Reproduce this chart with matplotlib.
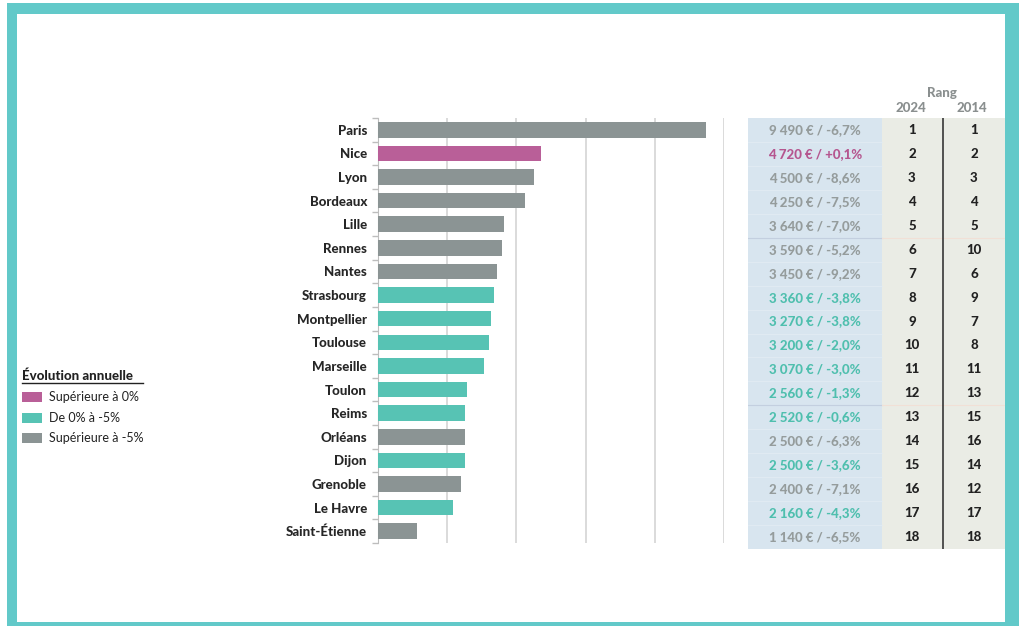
import matplotlib.pyplot as plt
from matplotlib.patches import Rectangle

plt.rcParams["font.family"] = ["Lato", "DejaVu Sans"]

# data, top to bottom
cities = ["Paris", "Nice", "Lyon", "Bordeaux", "Lille", "Rennes", "Nantes",
          "Strasbourg", "Montpellier", "Toulouse", "Marseille", "Toulon",
          "Reims", "Orléans", "Dijon", "Grenoble", "Le Havre", "Saint-Étienne"]
prices = [9490, 4720, 4500, 4250, 3640, 3590, 3450, 3360, 3270, 3200, 3070,
          2560, 2520, 2500, 2500, 2400, 2160, 1140]
evolution = [-6.7, 0.1, -8.6, -7.5, -7.0, -5.2, -9.2, -3.8, -3.8, -2.0, -3.0,
             -1.3, -0.6, -6.3, -3.6, -7.1, -4.3, -6.5]
rank_2024 = list(range(1, 19))
rank_2014 = [1, 2, 3, 4, 5, 10, 6, 9, 7, 8, 11, 13, 15, 16, 14, 12, 17, 18]

legend_labels = ["Supérieure à 0%", "De 0% à -5%", "Supérieure à -5%"]
bar_colors = ["#b95f98", "#57c3b4", "#8b9494"]
text_colors = ["#b5568f", "#4fbfae", "#959c9c"]

BOLD = 900


def category(ev):
    if ev > 0:
        return 0
    if ev >= -5:
        return 1
    return 2


def fmt_price(v):
    return f"{v:,}".replace(",", " ") + " €"


def fmt_evo(e):
    return f"{e:+.1f}%".replace(".", ",")


W, H = 1019, 626
fig = plt.figure(figsize=(W / 100, H / 100), dpi=100)


def fig_box(x0, y0, x1, y1):
    # pixel box -> figure fraction rect
    return [x0 / W, 1 - y1 / H, (x1 - x0) / W, (y1 - y0) / H]


# teal frame
fig.add_artist(Rectangle((7 / W, 0), 1 - 7 / W, 1 - 3 / H, color="#62c9c9",
                         lw=0, transform=fig.transFigure, zorder=-10))
fig.add_artist(Rectangle((17 / W, 1 - 622 / H), (1005 - 17) / W, (622 - 14) / H,
                         color="white", lw=0, transform=fig.transFigure,
                         zorder=-9))

# bars
ax = fig.add_axes(fig_box(378, 118, 724, 543))
ax.patch.set_alpha(0)
n = len(cities)
ypos = list(range(n))
cats = [category(e) for e in evolution]
ax.barh(ypos, prices, height=0.66, color=[bar_colors[c] for c in cats], zorder=3)
ax.set_xlim(0, 10000)
ax.set_ylim(n - 0.5, -0.5)
ax.set_xticks([2000, 4000, 6000, 8000, 10000])
ax.xaxis.grid(True, color="#d4d4d4", linewidth=1.2, zorder=0)
ax.tick_params(axis="x", length=0, labelbottom=False)
ax.set_yticks(ypos)
ax.set_yticklabels(cities, fontsize=9.5, fontweight=BOLD, color="#262626")
ax.tick_params(axis="y", length=0, pad=8)
ax.set_yticks([i - 0.5 for i in range(n + 1)], minor=True)
ax.tick_params(axis="y", which="minor", length=4, color="#bdbdbd", width=1)
for s in ["top", "right", "bottom"]:
    ax.spines[s].set_visible(False)
ax.spines["left"].set_color("#bdbdbd")

# table
tx = fig.add_axes(fig_box(748, 118, 1005, 549))
tx.set_xlim(748, 1005)
tx.set_ylim(n, 0)
tx.axis("off")
tx.add_patch(Rectangle((748, 0), 134, n, color="#d8e5ef", lw=0))
tx.add_patch(Rectangle((882, 0), 123, n, color="#eaece5", lw=0))
for i in range(1, n):
    tx.plot([748, 882], [i, i], color="#e2ebf3", lw=0.6)
for i in [5, 12]:
    tx.plot([748, 882], [i, i], color="#c3cfdf", lw=0.8)
    tx.plot([882, 1005], [i, i], color="#f1e0d6", lw=0.8)
tx.plot([943, 943], [0, n], color="#444444", lw=1.3)
for i in range(n):
    c = text_colors[cats[i]]
    tx.text(815, i + 0.5, f"{fmt_price(prices[i])} / {fmt_evo(evolution[i])}",
            ha="center", va="center", fontsize=9.5, fontweight=BOLD, color=c)
    tx.text(912, i + 0.5, str(rank_2024[i]), ha="center", va="center",
            fontsize=9.5, fontweight=BOLD, color="#222222")
    tx.text(974, i + 0.5, str(rank_2014[i]), ha="center", va="center",
            fontsize=9.5, fontweight=BOLD, color="#222222")

# header
fig.text(942 / W, 1 - 93 / H, "Rang", ha="center", va="center",
         fontsize=9.5, fontweight=BOLD, color="#8a8f8f")
fig.text(911 / W, 1 - 108 / H, "2024", ha="center", va="center",
         fontsize=9.5, fontweight=BOLD, color="#8a8f8f")
fig.text(972 / W, 1 - 108 / H, "2014", ha="center", va="center",
         fontsize=9.5, fontweight=BOLD, color="#8a8f8f")

# legend
fig.text(22 / W, 1 - 376 / H, "Évolution annuelle", ha="left", va="center",
         fontsize=9.5, fontweight=BOLD, color="#222222")
fig.add_artist(plt.Line2D([22 / W, 143 / W], [1 - 383 / H, 1 - 383 / H],
                          color="#222222", lw=1))
for k, lab in enumerate(legend_labels):
    yc = 397 + k * 20.5
    fig.add_artist(Rectangle((22 / W, 1 - (yc + 5) / H), 20 / W, 10 / H,
                             color=bar_colors[k], lw=0, transform=fig.transFigure))
    fig.text(49 / W, 1 - yc / H, lab, ha="left", va="center",
             fontsize=9, color="#222222")

fig.savefig("out.png", dpi=100)
